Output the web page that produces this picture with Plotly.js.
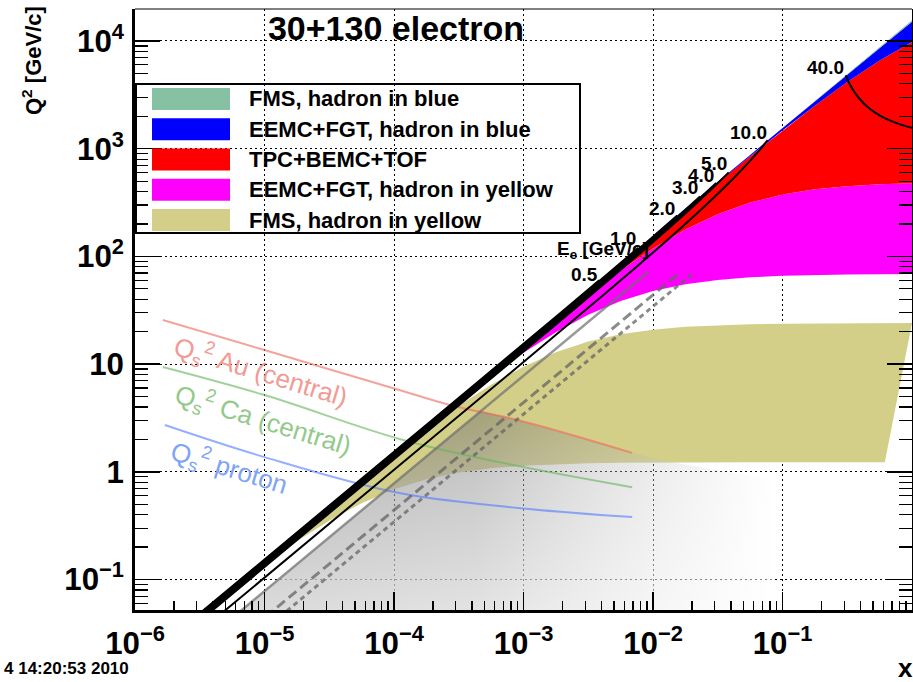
<!DOCTYPE html>
<html><head><meta charset="utf-8">
<script src="https://cdn.plot.ly/plotly-3.0.1.min.js"></script>
<style>html,body{margin:0;padding:0;background:#fff}#chart{width:913px;height:682px}</style>
</head><body><div id="chart"></div>
<script>
// ---------- data ----------
// common x grid for the acceptance bands (quarter decades)
const bandX = [1e-6,3.162e-6,1e-5,1.778e-5,3.162e-5,5.623e-5,1e-4,1.778e-4,3.162e-4,5.623e-4,1e-3,1.778e-3,3.162e-3,5.623e-3,1e-2,1.778e-2,3.162e-2,5.623e-2,0.1,0.1778,0.3162,0.5623,1];

// FMS, hadron in yellow (olive)
const fmsYelLowX = bandX.slice(0,21).concat([0.617]);
const fmsYelLowQ2 = [0.01540,0.04743,0.1384,0.2263,0.3521,0.5120,0.6877,0.8522,0.9845,1.0788,1.1401,1.1778,1.2001,1.2130,1.2204,1.2246,1.2269,1.2283,1.2290,1.2295,1.2297,1.2298];
const fmsYelUpX = bandX;
const fmsYelUpQ2 = [0.01559,0.04923,0.1550,0.2742,0.4834,0.8464,1.4652,2.4877,4.095,6.431,9.470,12.896,16.19,18.906,20.875,22.17,22.98,23.455,23.73,23.89,23.98,24.03,24.06];

// EEMC+FGT, hadron in yellow (magenta), from x=3.16e-4
const eemcYelX = bandX.slice(8);
const eemcYelLowQ2 = [4.604,7.783,12.723,19.786,28.765,38.62,47.84,55.26,60.53,63.97,66.08,67.33,68.05,68.46,68.70];
const eemcYelUpQ2 = [4.884,8.619,15.122,26.26,44.85,74.49,118.56,177.6,246.8,316.0,375.2,419.3,449.0,467.7,478.8];

// TPC+BEMC+TOF (red), from x=3.16e-3
const tpcX = bandX.slice(12);
const tpcLowQ2 = eemcYelUpQ2.slice(4);
const tpcUpQ2 = [49.24,87.43,155.08,274.5,484.2,848.9,1472.9,2509.8,4155.3,6581.6,9800.1];

// EEMC+FGT, hadron in blue (blue), from x=1e-2
const eemcBlueX = bandX.slice(14);
const eemcBlueLowQ2 = tpcUpQ2.slice(2);
const eemcBlueUpQ2 = [155.95,277.25,492.8,875.7,1555.1,2758.7,4884.8,8620.8,15128];

// FMS, hadron in blue (teal), from x=0.1
const fmsBlueX = bandX.slice(18);
const fmsBlueLowQ2 = eemcBlueUpQ2.slice(4);
const fmsBlueUpQ2 = [1560,2774,4933,8772,15600];

// grey shaded region (under the Au saturation line)
const greyX = [5.77e-6,4.7e-4,9.8e-4,2.7e-3,6.9e-3,0.0151,0.0859,0.0859];
const greyQ2 = [0.045,3.67,2.95,2.07,1.50,1.21,0.84,0.045];

// saturation scales
const qsAuX = [1.64e-6,1.0e-5,1.1e-4,2.7e-4,9.8e-4,6.9e-3];
const qsAuQ2 = [25.7,13.5,5.75,4.17,2.95,1.50];
const qsCaX = [1.64e-6,1.0e-5,1.1e-4,6.5e-4,6.9e-3];
const qsCaQ2 = [9.4,5.16,2.02,1.23,0.72];
const qsPX = [1.70e-6,1.0e-5,1.1e-4,1.1e-3,6.9e-3];
const qsPQ2 = [2.72,1.37,0.635,0.452,0.38];

// grey constant-y lines
const gSolidX = [5.77e-6,9.23e-3], gSolidQ2 = [0.045,72];
const gLongX = [1.02e-5,1.64e-2], gLongQ2 = [0.045,72];
const gShortX = [1.31e-5,2.1e-2], gShortQ2 = [0.045,72];

// scattered-electron energy curves
const eLabels = ['0.5','1.0','2.0','3.0','4.0','5.0','10.0','40.0'];
const eCurvesX = [
  [3.911e-7,1.954e-4,7.796e-4,1.939e-3,3.846e-3],
  [7.958e-7,3.972e-4,1.5806e-3,3.911e-3,7.692e-3],
  [1.648e-7,8.212e-4,3.250e-3,7.958e-3,0.015385],
  [2.564e-7,1.275e-3,5.017e-3,0.012146,0.023077],
  [3.550e-7,1.7616e-3,6.889e-3,0.016484,0.030769],
  [4.615e-7,2.285e-3,8.876e-3,0.020979,0.038462],
  [1.1538e-6,1.1481e-3,4.525e-3,8.876e-3,0.0161,0.025641,0.038462,0.053254,0.065934,0.076923],
  [1.0,0.80769,0.61538,0.51923,0.46154,0.39560,0.35897,0.33566,0.31953,0.30769]
];
const eCurvesQ2 = [
  [0.006,3,12,30,60],
  [0.012,6,24,60,120],
  [0.0024,12,48,120,240],
  [0.0036,18,72,180,360],
  [0.0048,24,96,240,480],
  [0.006,30,120,300,600],
  [0.012,12,48,96,180,300,480,720,960,1200],
  [1560,1680,1920,2160,2400,2880,3360,3840,4320,4800]
];

const legendNames = ['FMS, hadron in blue','EEMC+FGT, hadron in blue','TPC+BEMC+TOF','EEMC+FGT, hadron in yellow','FMS, hadron in yellow'];
const legendColors = ['#87c1a3','#0000ff','#ff0000','#ff00ff','#d4cf88'];

// ---------- drawing ----------
const FONT = 'Liberation Sans, Arial, Helvetica, sans-serif';
const L = 135, R = 912, T = 9, B = 610;
const px = v => (v - L) / (R - L);
const py = v => (B - v) / (B - T);

function band(xl, yl, xu, yu, color) {
  return {x: xl.concat(xu.slice().reverse()), y: yl.concat(yu.slice().reverse()),
    mode: 'lines', fill: 'toself', fillcolor: color, line: {width: 0, color: color},
    hoverinfo: 'skip', showlegend: false};
}
function line(x, y, color, width, dash, shape) {
  return {x: x, y: y, mode: 'lines', line: {color: color, width: width, dash: dash || 'solid', shape: shape || 'linear'},
    hoverinfo: 'skip', showlegend: false};
}

const traces = [];
traces.push(band(fmsYelLowX, fmsYelLowQ2, fmsYelUpX, fmsYelUpQ2, legendColors[4]));
traces.push(band(eemcYelX, eemcYelLowQ2, eemcYelX, eemcYelUpQ2, legendColors[3]));
traces.push(band(tpcX, tpcLowQ2, tpcX, tpcUpQ2, legendColors[2]));
traces.push(band(eemcBlueX, eemcBlueLowQ2, eemcBlueX, eemcBlueUpQ2, legendColors[1]));
traces.push(band(fmsBlueX, fmsBlueLowQ2, fmsBlueX, fmsBlueUpQ2, legendColors[0]));

traces.push({x: greyX, y: greyQ2, mode: 'lines', fill: 'toself', line: {width: 0},
  fillgradient: {type: 'horizontal', colorscale: [[0, 'rgba(95,95,95,0.55)'], [0.45, 'rgba(105,105,105,0.45)'], [1, 'rgba(150,150,150,0)']]},
  hoverinfo: 'skip', showlegend: false});
traces.push({x: greyX, y: greyQ2, mode: 'lines', fill: 'toself', line: {width: 0},
  fillgradient: {type: 'vertical', colorscale: [[0, 'rgba(255,255,255,0.6)'], [1, 'rgba(255,255,255,0)']]},
  hoverinfo: 'skip', showlegend: false});

traces.push(line(qsAuX, qsAuQ2, 'rgba(240,100,90,0.6)', 2, 'solid', 'spline'));
traces.push(line(qsCaX, qsCaQ2, 'rgba(100,180,90,0.6)', 2, 'solid', 'spline'));
traces.push(line(qsPX, qsPQ2, 'rgba(80,120,255,0.6)', 2, 'solid', 'spline'));

traces.push(line(gSolidX, gSolidQ2, 'rgba(110,110,110,0.7)', 2.5));
traces.push(line(gLongX, gLongQ2, 'rgba(100,100,100,0.75)', 3, '10px,5px'));
traces.push(line(gShortX, gShortQ2, 'rgba(100,100,100,0.75)', 3, '5px,4px'));

for (let i = 0; i < eCurvesX.length; i++) traces.push(line(eCurvesX[i], eCurvesQ2[i], '#000', 2, 'solid', 'spline'));

const ann = [];
function txt(t, x, y, size, opts) {
  ann.push(Object.assign({text: t, xref: 'paper', yref: 'paper', x: px(x), y: py(y), xanchor: 'center', yanchor: 'middle',
    showarrow: false, font: {family: FONT, size: size, color: '#000', weight: 'bold'}}, opts || {}));
}
// electron-energy labels
const eLabPos = [[584,274],[623,238],[662,208],[685,188],[701,175],[714,163],[748,132],[825,67]];
eLabels.forEach((t, i) => txt(t, eLabPos[i][0], eLabPos[i][1], 19));
txt('E<sub>e</sub> [GeV/c]', 603, 250, 19);
// saturation labels
txt('Q<sub>s</sub><sup>2</sup> Au (central)', 261, 372, 26, {textangle: 17, font: {family: FONT, size: 26, color: '#f29a94'}});
txt('Q<sub>s</sub><sup>2</sup> Ca (central)', 263, 420, 26, {textangle: 17, font: {family: FONT, size: 26, color: '#93c98a'}});
txt('Q<sub>s</sub><sup>2</sup> proton', 229, 468, 26, {textangle: 17, font: {family: FONT, size: 26, color: '#7fa3f7'}});
// axis titles and stamp
txt('Q<sup>2</sup> [GeV/c]', 32, 61, 22, {textangle: -90});
txt('x', 905, 668, 26);
txt('4 14:20:53 2010', 2, 668, 17, {xanchor: 'left'});

// legend (drawn by hand)
const shapes = [];
shapes.push({type: 'rect', xref: 'paper', yref: 'paper', x0: px(136), x1: px(580), y0: py(233), y1: py(84), line: {color: '#000', width: 2}, fillcolor: 'rgba(0,0,0,0)', layer: 'above'});
legendNames.forEach((n, i) => {
  const yc = 99 + i * 30.25;
  shapes.push({type: 'rect', xref: 'paper', yref: 'paper', x0: px(152), x1: px(230), y0: py(yc + 11), y1: py(yc - 11), line: {width: 0}, fillcolor: legendColors[i], layer: 'above'});
  txt(n, 247, yc, 22, {xanchor: 'left'});
});
// top frame line
shapes.push({type: 'line', xref: 'paper', yref: 'paper', x0: 0, x1: 1, y0: 1, y1: 1, line: {color: '#000', width: 1}, layer: 'above'});

const axisFont = {family: FONT, size: 25, color: '#000', weight: 'bold'};
const layout = {
  width: 913, height: 682,
  margin: {l: L, r: 913 - R, t: T, b: 682 - B, pad: 0},
  paper_bgcolor: '#fff', plot_bgcolor: '#fff',
  title: {text: '30+130 electron', xref: 'container', yref: 'container', x: 396 / 913, y: 1 - 28 / 682, xanchor: 'center', yanchor: 'middle',
    font: {family: FONT, size: 34, color: '#000', weight: 'bold'}},
  xaxis: {type: 'log', range: [-6, 0], dtick: 1, exponentformat: 'power', showgrid: true, gridcolor: '#000', gridwidth: 1, griddash: '2px,3px',
    ticks: 'inside', ticklen: 18, tickwidth: 1.5, tickcolor: '#000', showline: true, linecolor: '#000', linewidth: 3, mirror: false,
    zeroline: false, tickfont: axisFont, ticklabelstandoff: 5,
    minor: {ticks: 'inside', ticklen: 9, tickwidth: 1.2, tickcolor: '#000', dtick: 'D1', showgrid: false}},
  yaxis: {type: 'log', range: [-1.283, 4.297], dtick: 1, exponentformat: 'power', showgrid: true, gridcolor: '#000', gridwidth: 1, griddash: '2px,3px',
    ticks: 'inside', ticklen: 25, tickwidth: 1.5, tickcolor: '#000', showline: true, linecolor: '#000', linewidth: 3, mirror: 'ticks',
    zeroline: false, tickfont: axisFont, ticklabelstandoff: 3,
    minor: {ticks: 'inside', ticklen: 13, tickwidth: 1.2, tickcolor: '#000', dtick: 'D1', showgrid: false}},
  showlegend: false,
  annotations: ann,
  shapes: shapes
};
Plotly.newPlot('chart', traces, layout, {staticPlot: true, displayModeBar: false});
</script></body></html>
